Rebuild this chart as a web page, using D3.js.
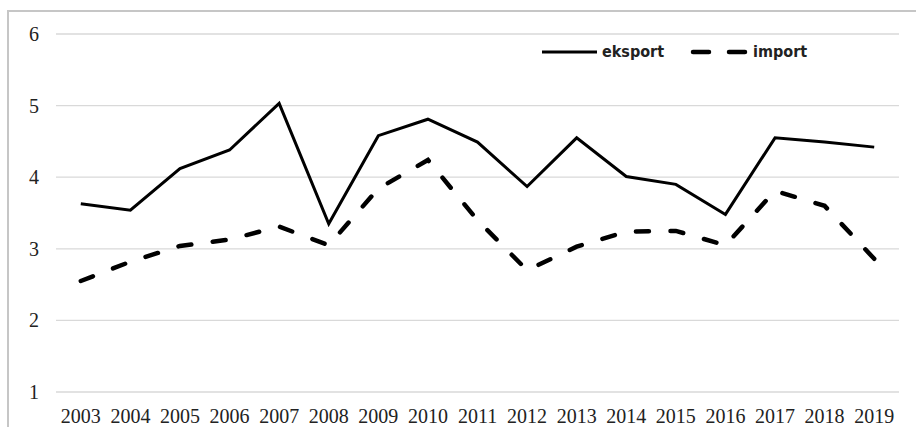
<!DOCTYPE html>
<html>
<head>
<meta charset="utf-8">
<script src="https://cdn.jsdelivr.net/npm/d3@7/dist/d3.min.js"></script>
<style>
  html, body { margin: 0; padding: 0; background: #fff; }
  svg { display: block; }
</style>
</head>
<body>
<svg id="chart" width="916" height="427"></svg>
<script>
// Yearly values for export and import
const years = ["2003","2004","2005","2006","2007","2008","2009","2010","2011","2012","2013","2014","2015","2016","2017","2018","2019"];
const eksport = [3.63, 3.54, 4.12, 4.38, 5.03, 3.35, 4.58, 4.81, 4.49, 3.87, 4.55, 4.01, 3.90, 3.48, 4.55, 4.49, 4.42];
const importData = [2.55, 2.82, 3.04, 3.13, 3.31, 3.05, 3.84, 4.24, 3.40, 2.70, 3.03, 3.24, 3.25, 3.05, 3.81, 3.60, 2.86];
const yTicks = [1, 2, 3, 4, 5, 6];
const seriesNames = ["eksport", "import"];

const svg = d3.select("#chart");
const W = 916, H = 427;

// Outer frame of the chart area
svg.append("rect")
  .attr("x", 8).attr("y", 11)
  .attr("width", W - 7).attr("height", H)
  .attr("fill", "#fff")
  .attr("stroke", "#c6c6c6")
  .attr("stroke-width", 2);

const x = d3.scaleBand().domain(years).range([56, 899]);
const y = d3.scaleLinear().domain([1, 6]).range([392, 34]);

// Horizontal gridlines
svg.append("g")
  .selectAll("line")
  .data(yTicks)
  .join("line")
  .attr("x1", 56).attr("x2", 899)
  .attr("y1", d => y(d)).attr("y2", d => y(d))
  .attr("stroke", "#d9d9d9")
  .attr("stroke-width", 1.3);

const axisFont = "'Liberation Serif', 'Times New Roman', serif";

// Y axis labels
const yAxis = d3.axisLeft(y).tickValues(yTicks).tickSize(0).tickPadding(0).tickFormat(d3.format("d"));
svg.append("g")
  .attr("transform", "translate(39,0)")
  .call(yAxis)
  .call(g => g.select(".domain").remove())
  .call(g => g.selectAll("text")
    .attr("font-family", axisFont)
    .attr("font-size", 20)
    .attr("fill", "#222"));

// X axis labels
const xAxis = d3.axisBottom(x).tickSize(0).tickPadding(0);
svg.append("g")
  .attr("transform", "translate(0,409)")
  .call(xAxis)
  .call(g => g.select(".domain").remove())
  .call(g => g.selectAll("text")
    .attr("font-family", axisFont)
    .attr("font-size", 20)
    .attr("fill", "#222"));

const cx = d => x(d) + x.bandwidth() / 2;

const line = d3.line()
  .x((d, i) => cx(years[i]))
  .y(d => y(d));

// Export: solid line
svg.append("path")
  .datum(eksport)
  .attr("d", line)
  .attr("fill", "none")
  .attr("stroke", "#000")
  .attr("stroke-width", 3)
  .attr("stroke-linejoin", "miter");

// Import: dashed line; the period is tuned so the path ends on a dash
const importPath = svg.append("path")
  .datum(importData)
  .attr("d", line)
  .attr("fill", "none")
  .attr("stroke", "#000")
  .attr("stroke-width", 4.5)
  .attr("stroke-linecap", "round");
const dash = 13;
const len = importPath.node().getTotalLength();
const nDash = Math.round((len - dash) / 34);
const period = (len - dash) / nDash;
importPath.attr("stroke-dasharray", `${dash},${period - dash}`);

// Legend
const legend = svg.append("g").attr("class", "legend");
const legendFont = "'Liberation Sans Narrow', 'DejaVu Sans Condensed', 'Roboto Condensed', sans-serif";

legend.append("line")
  .attr("x1", 542).attr("x2", 597)
  .attr("y1", 52).attr("y2", 52)
  .attr("stroke", "#000").attr("stroke-width", 3);
legend.append("text")
  .attr("x", 602).attr("y", 57)
  .attr("font-family", legendFont)
  .attr("font-weight", "bold")
  .attr("font-size", 16)
  .attr("fill", "#222")
  .text(seriesNames[0]);

legend.append("line")
  .attr("x1", 693).attr("x2", 746)
  .attr("y1", 52).attr("y2", 52)
  .attr("stroke", "#000").attr("stroke-width", 4.5)
  .attr("stroke-linecap", "round")
  .attr("stroke-dasharray", "16,20");
legend.append("text")
  .attr("x", 753).attr("y", 57)
  .attr("font-family", legendFont)
  .attr("font-weight", "bold")
  .attr("font-size", 16)
  .attr("fill", "#222")
  .text(seriesNames[1]);
</script>
</body>
</html>
